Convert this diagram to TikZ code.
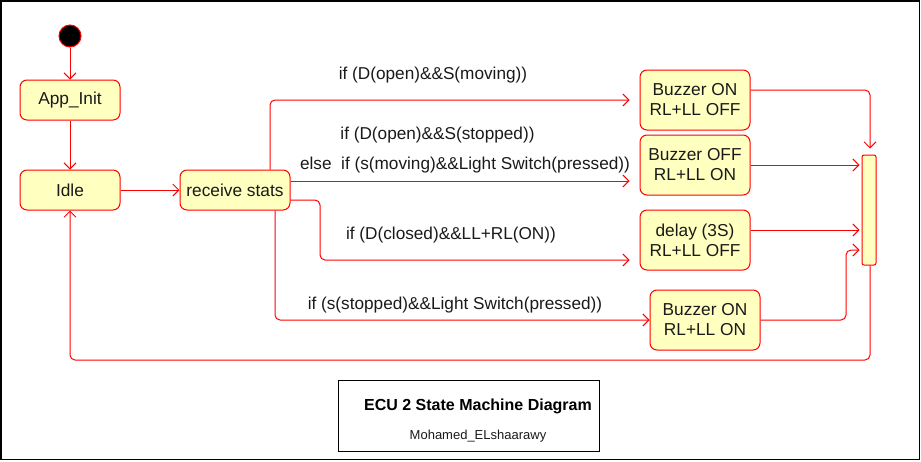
\documentclass[tikz,border=0pt]{standalone}
\usepackage{fontspec}
\setmainfont{Liberation Sans}
\usetikzlibrary{arrows.meta}
\definecolor{fillY}{HTML}{FFFFC0}
\definecolor{lineR}{HTML}{FF0000}
\definecolor{txt}{HTML}{1A1A1A}
\begin{document}
\begin{tikzpicture}[x=1pt,y=-1pt,
 state/.style={draw=lineR, fill=fillY, rounded corners=7pt, minimum width=100pt, minimum height=40pt, font=\fontsize{17.3}{20}\selectfont, text=txt, align=center, inner sep=0pt, line width=1pt},
 conn/.style={draw=lineR, line width=1pt, rounded corners=5pt, -{Straight Barb[length=6pt,width=12pt]}},
 lbl/.style={font=\fontsize{17.2}{20}\selectfont, text=txt, inner sep=0pt}]
\useasboundingbox (0,0) rectangle (921,461);
\draw[black, line width=1.5pt] (1,1) rectangle (919.5,459.5);

\node[circle, draw=lineR, fill=black, minimum size=22pt, inner sep=0pt, line width=1pt] (start) at (70,36) {};
\node[state] (app) at (70,100) {App\_Init};
\node[state] (idle) at (70,190) {Idle};
\node[state, minimum width=110pt] (recv) at (235,190) {receive stats};
\node[state, minimum width=110pt, minimum height=60pt] (b1) at (695,100) {Buzzer ON\\RL+LL OFF};
\node[state, minimum width=110pt, minimum height=60pt] (b2) at (695,165) {Buzzer OFF\\RL+LL ON};
\node[state, minimum width=110pt, minimum height=60pt] (dl) at (695,240) {delay (3S)\\RL+LL OFF};
\node[state, minimum width=110pt, minimum height=60pt] (b4) at (705,320) {Buzzer ON\\RL+LL ON};
\node[draw=lineR, fill=fillY, rounded corners=2pt, minimum width=14pt, minimum height=110pt, inner sep=0pt, line width=1pt] (bar) at (869,210) {};

\draw[conn] (start) -- (app);
\draw[conn] (app) -- (idle);
\draw[conn] (idle) -- (recv);
\draw[conn, shorten >=10pt] ([xshift=35pt]recv.north) |- (b1.west);
\draw[conn, shorten >=10pt] ([yshift=9pt]recv.east) -- ([yshift=9pt]recv.east -| b2.west);
\draw[conn, shorten >=10pt] ([yshift=-10pt]recv.east) -| (320,260) -- ([yshift=-20pt]dl.west);
\draw[conn] ([xshift=40pt]recv.south) |- (b4.west);
\draw[conn, shorten >=6pt] ([yshift=10pt]b1.east) -| ([xshift=1pt]bar.north);
\draw[conn, shorten >=2pt] (b2.east) -- (b2.east -| bar.west);
\draw[conn, shorten >=2pt] ([yshift=10pt]dl.east) -- ([yshift=10pt]dl.east -| bar.west);
\draw[conn, shorten >=2pt] (b4.east) -| (846,250) -- ([yshift=-40pt]bar.west);
\draw[conn] ([xshift=1pt]bar.south) |- (idle.south |- 0,360) -- (idle.south);

\node[lbl] (l1) at (433,75) {if (D(open)\&\&S(moving))};
\node[lbl] (l2) at (437.5,135) {if (D(open)\&\&S(stopped))};
\node[lbl] (l3) at (465,165) {else\ \ if (s(moving)\&\&Light Switch(pressed))};
\node[lbl] (l4) at (451,235) {if (D(closed)\&\&LL+RL(ON))};
\node[lbl] (l5) at (455,305) {if (s(stopped)\&\&Light Switch(pressed))};

\node[draw=black, line width=1pt, minimum width=261pt, minimum height=71pt, inner sep=0pt] (tbox) at (468.5,415.5) {};
\node[font=\bfseries\fontsize{16}{19}\selectfont, inner sep=0pt] (title) at (478,406) {ECU 2 State Machine Diagram};
\node[font=\fontsize{13}{16}\selectfont, text=txt, inner sep=0pt] (author) at (478,436) {Mohamed\_ELshaarawy};
\end{tikzpicture}
\end{document}
